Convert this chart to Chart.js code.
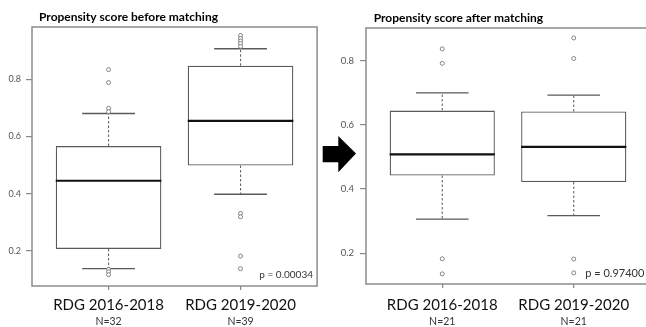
<!DOCTYPE html>
<html>
<head>
<meta charset="utf-8">
<script src="https://cdn.jsdelivr.net/npm/chart.js@4/dist/chart.umd.min.js"></script>
<style>
  html, body { margin: 0; padding: 0; background: #fff; overflow: hidden; }
  #wrap { position: relative; width: 646px; height: 327px; overflow: hidden; }
  canvas { position: absolute; top: 0; }
  #before { left: 0; }
  #after { left: 322px; }
  #arrow { position: absolute; left: 0; top: 0; pointer-events: none; }
</style>
</head>
<body>
<div id="wrap">
  <canvas id="before" width="322" height="327"></canvas>
  <canvas id="after" width="340" height="327"></canvas>
  <svg id="arrow" width="646" height="327">
    <polygon points="322.7,146 338.3,146 338.3,136 356,153.5 338.3,172.3 338.3,162.3 322.7,162.3" fill="#000"/>
  </svg>
</div>
<script>
// Groups compared in both panels
const groups = ['RDG 2016-2018', 'RDG 2019-2020'];
const yTicks = [0.2, 0.4, 0.6, 0.8];

// Propensity score before matching
const beforeTitle = 'Propensity score before matching';
const beforeN = ['N=32', 'N=39'];
const beforeLowerWhisker = [0.138, 0.398];
const beforeQ1 = [0.207, 0.498];
const beforeMedian = [0.445, 0.654];
const beforeQ3 = [0.566, 0.847];
const beforeUpperWhisker = [0.680, 0.906];
const beforeOutliers = [
  [0.833, 0.788, 0.698, 0.686, 0.136, 0.127, 0.117],
  [0.952, 0.942, 0.933, 0.924, 0.914, 0.331, 0.319, 0.182, 0.138]
];
const beforeP = 'p = 0.00034';

// Propensity score after matching
const afterTitle = 'Propensity score after matching';
const afterN = ['N=21', 'N=21'];
const afterLowerWhisker = [0.306, 0.317];
const afterQ1 = [0.442, 0.422];
const afterMedian = [0.508, 0.531];
const afterQ3 = [0.644, 0.641];
const afterUpperWhisker = [0.699, 0.692];
const afterOutliers = [
  [0.836, 0.791, 0.183, 0.136],
  [0.870, 0.806, 0.182, 0.139]
];
const afterP = 'p = 0.97400';

const BOX_HALF = 0.4;   // half box width in x units
const CAP_HALF = 0.2;   // half whisker-cap width in x units
const FONT = 'Lato, "Open Sans", sans-serif';

function buildDatasets(lw, q1, med, q3, uw, outliers) {
  const boxes = [], whiskers = [], caps = [], medians = [], points = [];
  groups.forEach((g, i) => {
    const x = i + 1;
    boxes.push({ x, y: [q1[i], q3[i]] });
    whiskers.push({ x, y: q3[i] }, { x, y: uw[i] }, { x, y: null },
                  { x, y: q1[i] }, { x, y: lw[i] }, { x, y: null });
    caps.push({ x: x - CAP_HALF, y: uw[i] }, { x: x + CAP_HALF, y: uw[i] }, { x, y: null },
              { x: x - CAP_HALF, y: lw[i] }, { x: x + CAP_HALF, y: lw[i] }, { x, y: null });
    medians.push({ x: x - BOX_HALF, y: med[i] }, { x: x + BOX_HALF, y: med[i] }, { x, y: null });
    outliers[i].forEach(v => points.push({ x, y: v }));
  });
  return [
    { type: 'bar', data: boxes, backgroundColor: '#fff', borderColor: '#5a5a5a',
      borderWidth: 1.3, borderSkipped: false, barPercentage: 0.8, categoryPercentage: 1, order: 5 },
    { type: 'line', data: whiskers, borderColor: '#666', borderWidth: 1.1, borderDash: [2.5, 2],
      pointRadius: 0, spanGaps: false, order: 4 },
    { type: 'line', data: caps, borderColor: '#5a5a5a', borderWidth: 1.3,
      pointRadius: 0, spanGaps: false, order: 3 },
    { type: 'line', data: medians, borderColor: '#111', borderWidth: 2.2,
      pointRadius: 0, spanGaps: false, order: 1 },
    { type: 'line', data: points, showLine: false, pointRadius: 2, pointBorderWidth: 0.9,
      pointBorderColor: '#777', pointBackgroundColor: '#fff', order: 0 }
  ];
}

// Frame, panel title and p-value text
const panelDecor = {
  id: 'panelDecor',
  afterDraw(chart, args, o) {
    const { ctx, chartArea: a } = chart;
    ctx.save();
    ctx.strokeStyle = '#8c8c8c';
    ctx.lineWidth = 1.5;
    ctx.strokeRect(a.left, a.top, a.right - a.left, a.bottom - a.top);
    ctx.fillStyle = '#000';
    ctx.textBaseline = 'alphabetic';
    ctx.textAlign = 'left';
    ctx.font = 'bold 12px ' + FONT;
    ctx.fillText(o.title, o.titleX, o.titleY);
    ctx.fillStyle = '#333';
    ctx.textAlign = 'right';
    ctx.font = o.pSize + 'px ' + FONT;
    ctx.fillText(o.pText, o.pX, o.pY);
    ctx.restore();
  }
};

function makeChart(id, cfg) {
  const sum = cfg.stats;
  new Chart(document.getElementById(id), {
    type: 'bar',
    data: { datasets: buildDatasets(sum[0], sum[1], sum[2], sum[3], sum[4], cfg.outliers) },
    plugins: [panelDecor],
    options: {
      responsive: false,
      animation: false,
      devicePixelRatio: 1,
      layout: { padding: { left: 0, top: cfg.top, right: cfg.right, bottom: 0 } },
      plugins: {
        legend: { display: false },
        tooltip: { enabled: false },
        panelDecor: cfg.decor
      },
      scales: {
        x: {
          type: 'linear', min: 0.42, max: 2.58, offset: false, weight: 0,
          grid: { display: true, offset: false, drawOnChartArea: false, drawTicks: true, tickLength: 4, color: '#888', lineWidth: 1.2 },
          border: { display: false },
          afterBuildTicks: s => { s.ticks = groups.map((g, i) => ({ value: i + 1 })); },
          afterFit: s => { s.height = cfg.xHeight; },
          ticks: { padding: cfg.xPad, maxRotation: 0, autoSkip: false, color: '#111',
                   font: { family: FONT, size: 15 },
                   callback: v => groups[Math.round(v) - 1] }
        },
        n: {
          type: 'linear', position: 'bottom', axis: 'x', min: 0.42, max: 2.58, offset: false, weight: 1,
          grid: { display: false, drawTicks: false },
          border: { display: false },
          afterBuildTicks: s => { s.ticks = groups.map((g, i) => ({ value: i + 1 })); },
          afterFit: s => { s.height = cfg.nHeight; },
          ticks: { padding: cfg.nPad, maxRotation: 0, autoSkip: false, color: '#333',
                   font: { family: FONT, size: 10.5 },
                   callback: v => cfg.n[Math.round(v) - 1] }
        },
        y: {
          type: 'linear', min: cfg.yMin, max: cfg.yMax,
          grid: { display: true, drawOnChartArea: false, drawTicks: true, tickLength: 6, color: '#888', lineWidth: 1.2 },
          border: { display: false },
          afterBuildTicks: s => { s.ticks = yTicks.map(v => ({ value: v })); },
          afterFit: s => { s.width = cfg.yWidth; },
          ticks: { padding: cfg.yPad, color: '#555', font: { family: FONT, size: cfg.yFont },
                   callback: v => v.toFixed(1) }
        }
      }
    }
  });
}

makeChart('before', {
  stats: [beforeLowerWhisker, beforeQ1, beforeMedian, beforeQ3, beforeUpperWhisker],
  outliers: beforeOutliers, n: beforeN,
  yMin: 0.0775, yMax: 0.982, top: 27, right: 3, yWidth: 32, yPad: 5, yFont: 9,
  xHeight: 25, xPad: 6, nHeight: 16, nPad: 4,
  decor: { title: beforeTitle, titleX: 39, titleY: 20.7, pText: beforeP, pSize: 10, pX: 313, pY: 277.5 }
});

makeChart('after', {
  stats: [afterLowerWhisker, afterQ1, afterMedian, afterQ3, afterUpperWhisker],
  outliers: afterOutliers, n: afterN,
  yMin: 0.1044, yMax: 0.901, top: 28, right: 12, yWidth: 44, yPad: 6, yFont: 9.5,
  xHeight: 27, xPad: 8, nHeight: 16, nPad: 4,
  decor: { title: afterTitle, titleX: 51.7, titleY: 21.7, pText: afterP, pSize: 11, pX: 322.3, pY: 276.5 }
});
</script>
</body>
</html>
